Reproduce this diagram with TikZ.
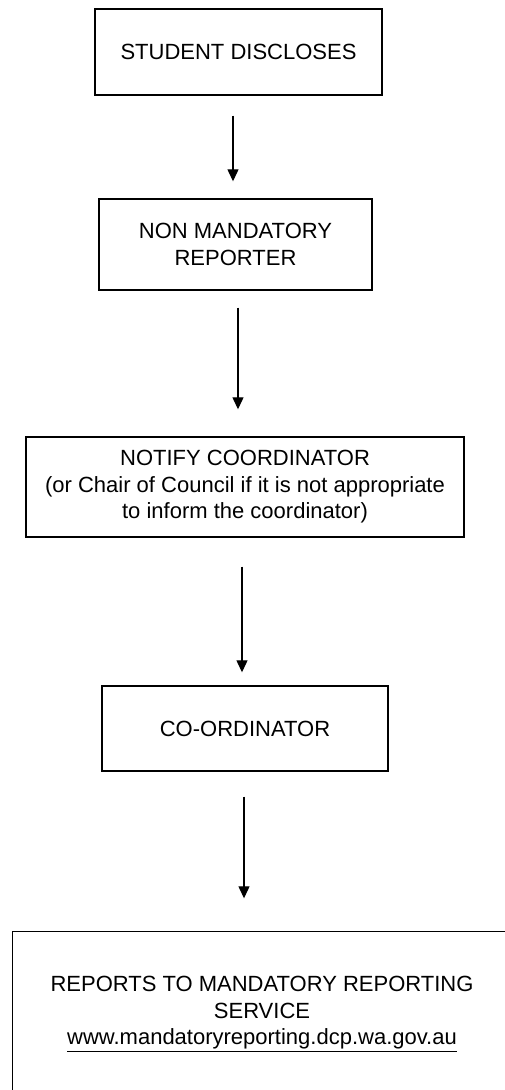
\documentclass[tikz,border=0pt]{standalone}
\usepackage{fontspec}
\setmainfont{Liberation Sans}
\usetikzlibrary{arrows.meta}
\begin{document}
\begin{tikzpicture}[x=1pt,y=-1pt,
  boxline/.style={draw,line width=1.4pt},
  box/.style={boxline,rectangle,inner sep=0pt,align=center,
    font=\fontsize{22}{26.5}\selectfont},
  arr/.style={line width=1.2pt,-{Triangle[width=11pt,length=12pt]}}]
\useasboundingbox (0,0) rectangle (504,1090);
\node[box,minimum width=287pt,minimum height=86pt] (b1) at (238.5,52) {STUDENT DISCLOSES};
\node[box,minimum width=273pt,minimum height=91pt] (b2) at (235.5,244.5) {NON MANDATORY\\REPORTER};
\node[box,minimum width=438pt,minimum height=100pt] (b3) at (245,487) {NOTIFY COORDINATOR\\(or Chair of Council if it is not appropriate\\to inform the coordinator)};
\node[box,minimum width=286pt,minimum height=85pt] (b4) at (245,728.5) {CO-ORDINATOR};
\node[box,draw=none,minimum width=498pt,minimum height=164pt] (b5) at (262,1014) {REPORTS TO MANDATORY REPORTING\\SERVICE\\\underline{www.mandatoryreporting.dcp.wa.gov.au}};
\draw[boxline] (b5.north west) rectangle ([xshift=40pt,yshift=-20pt]b5.south east);
\draw[arr] ([shift={(-5.5,20)}]b1.south) -- ([shift={(-2.5,-17)}]b2.north);
\draw[arr] ([shift={(2.5,17)}]b2.south) -- ([shift={(-7,-27)}]b3.north);
\draw[arr] ([shift={(-3,29)}]b3.south) -- ([shift={(-3,-13)}]b4.north);
\draw[arr] ([shift={(-1,25)}]b4.south) -- ([shift={(-18,-33)}]b5.north);
\end{tikzpicture}
\end{document}
